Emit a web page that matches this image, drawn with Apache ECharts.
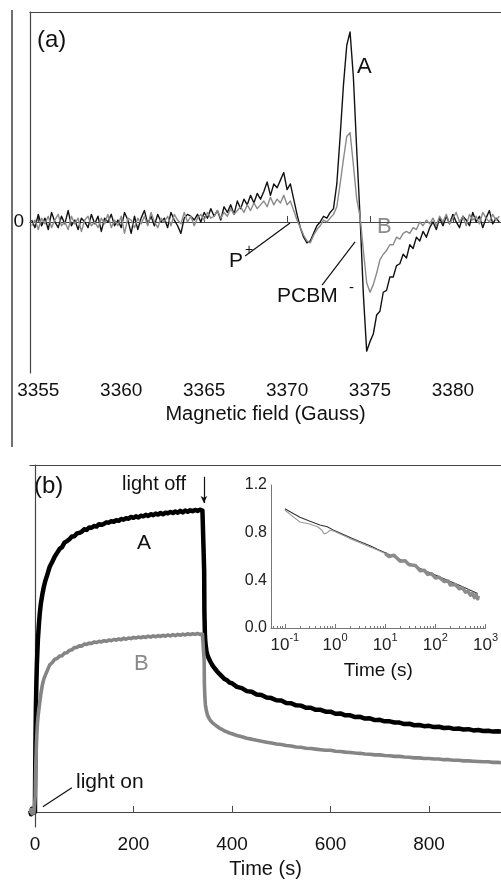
<!DOCTYPE html>
<html>
<head>
<meta charset="utf-8">
<script src="https://cdn.jsdelivr.net/npm/echarts@6/dist/echarts.min.js"></script>
<style>
  html, body { margin: 0; padding: 0; background: #fff; }
  #chart { width: 501px; height: 884px; }
</style>
</head>
<body>
<div id="chart"></div>
<script>
// (a) EPR spectra, sampled every 0.2 G from 3354.6 G
const fieldStart = 3354.6;
const fieldStep = 0.2;
const fieldTicks = [3355, 3360, 3365, 3370, 3375, 3380];
const spectrumA = [
  0.01,-0.03,0.04,-0.02,0.02,-0.04,0.05,0.00,-0.03,0.03,
  -0.01,0.06,-0.02,0.01,-0.04,0.02,0.00,-0.03,0.04,-0.01,
  0.03,-0.05,0.02,0.00,0.04,-0.02,0.01,-0.03,0.05,0.01,
  -0.06,0.03,-0.04,0.02,0.06,-0.01,0.03,-0.02,0.04,0.00,
  0.02,-0.03,0.05,0.01,-0.02,-0.06,0.02,0.04,0.03,0.01,
  0.04,0.00,0.05,0.02,0.07,0.03,0.06,0.01,0.08,0.05,
  0.09,0.04,0.11,0.07,0.12,0.09,0.14,0.10,0.15,0.12,
  0.16,0.21,0.14,0.20,0.18,0.22,0.26,0.17,0.20,0.12,0.04,
  -0.03,-0.08,-0.11,-0.10,-0.06,-0.02,0.00,0.03,0.02,0.05,0.07,
  0.20,0.45,0.72,0.93,1.00,0.76,0.38,0.03,-0.38,-0.68,
  -0.63,-0.59,-0.49,-0.47,-0.37,-0.36,-0.29,-0.29,-0.23,-0.22,-0.17,-0.19,-0.12,-0.14,-0.08,-0.10,-0.05,-0.08,-0.03,
  0.00,-0.04,0.02,-0.02,0.03,-0.01,0.04,0.00,-0.03,0.03,0.01,-0.02,0.05,0.00,0.03,-0.03,0.02,0.06,-0.01,0.02,0.00
];
const spectrumB = [
  -0.02,0.01,-0.04,0.02,-0.01,0.03,-0.03,0.01,0.04,-0.02,
  0.00,-0.04,0.03,-0.01,0.02,-0.05,0.01,0.03,-0.02,0.00,
  -0.03,0.02,-0.01,0.04,-0.03,0.01,-0.02,0.03,-0.06,0.02,
  0.01,-0.03,0.02,-0.01,0.03,-0.02,0.05,0.00,-0.03,0.02,
  0.00,0.03,-0.02,0.04,0.01,-0.01,0.05,0.00,0.03,-0.02,
  0.02,0.04,0.01,0.05,0.02,0.03,0.06,0.02,0.05,0.03,
  0.07,0.04,0.06,0.08,0.05,0.09,0.06,0.10,0.07,0.09,
  0.11,0.08,0.13,0.09,0.12,0.10,0.14,0.09,0.11,0.06,0.01,
  -0.03,-0.07,-0.10,-0.11,-0.07,-0.04,-0.02,0.01,0.00,0.02,0.04,
  0.08,0.20,0.33,0.45,0.47,0.30,0.12,0.03,-0.15,-0.32,
  -0.37,-0.33,-0.27,-0.20,-0.17,-0.15,-0.12,-0.12,-0.08,-0.09,-0.06,-0.05,-0.06,-0.03,-0.04,0.00,-0.02,0.01,-0.01,
  0.02,-0.02,0.03,0.00,0.04,-0.01,0.02,0.05,0.00,0.03,-0.02,0.04,0.01,0.03,-0.01,0.05,0.02,0.00,0.04,0.01,0.03
];

// (b) signal vs time
const timeTicks = [0, 200, 400, 600, 800];
const times = [
  -10,-8,-6,-4,-2,0,0.5,1,2,3,4,5,6,8,
  10,12,15,18,21,25,
  30,35,40,45,50,55,60,65,70,75,80,85,90,95,100,105,110,115,120,125,130,135,140,145,150,155,
  160,165,170,175,180,185,190,195,200,205,210,215,220,225,230,235,240,245,250,255,260,265,270,275,
  280,285,290,295,300,305,310,315,320,325,330,335,340,
  343,343.5,344,345,346,348,350,353,356,
  360,365,370,375,380,385,390,395,400,
  410,420,430,440,450,460,470,480,490,500,510,520,530,540,550,560,570,580,590,600,
  610,620,630,640,650,660,670,680,690,700,710,720,730,740,750,760,770,780,790,800,
  810,820,830,840,850,860,870,880,890,900,910,920,930,940,
  946
];
const signalA = [
  0.005,-0.008,0.01,-0.004,0.008,0.0,0.12,0.22,0.35,0.43,0.49,0.53,0.57,0.62,
  0.66,0.69,0.72,0.745,0.765,0.785,
  0.812,0.828,0.845,0.858,0.871,0.877,0.892,0.897,0.903,0.912,0.913,0.922,0.924,0.928,0.936,0.934,0.942,0.941,0.947,0.945,0.953,0.951,0.954,0.959,0.958,0.963,
  0.961,0.966,0.964,0.97,0.968,0.973,0.971,0.977,0.974,0.979,0.975,0.981,0.979,0.984,0.98,0.986,0.983,0.988,0.985,0.99,0.986,0.991,0.989,0.993,
  0.99,0.995,0.991,0.997,0.992,0.998,0.994,0.999,0.996,1.0,0.997,1.001,0.998,
  0.998,0.8,0.66,0.59,0.56,0.535,0.52,0.508,0.498,
  0.486,0.475,0.465,0.456,0.448,0.44,0.436,0.428,0.426,
  0.414,0.41,0.4,0.398,0.389,0.387,0.379,0.377,0.37,0.369,0.361,0.36,0.353,0.352,0.345,0.345,0.338,0.338,0.332,0.332,
  0.325,0.326,0.32,0.32,0.314,0.315,0.309,0.31,0.304,0.305,0.3,0.3,0.296,0.296,0.291,0.292,0.287,0.288,0.284,0.285,
  0.281,0.282,0.278,0.279,0.275,0.276,0.273,0.274,0.27,0.271,0.268,0.269,0.266,0.267,
  0.265
];
const signalB = [
  -0.004,0.008,-0.006,0.009,-0.003,0.0,0.05,0.1,0.17,0.22,0.26,0.29,0.31,0.34,
  0.365,0.39,0.42,0.44,0.452,0.468,
  0.487,0.494,0.505,0.508,0.516,0.517,0.526,0.527,0.535,0.537,0.544,0.545,0.55,0.549,0.556,0.555,0.559,0.558,0.563,0.561,0.565,0.563,0.567,0.565,0.569,0.567,
  0.571,0.569,0.573,0.57,0.575,0.572,0.576,0.574,0.578,0.576,0.579,0.577,0.58,0.578,0.582,0.579,0.583,0.58,0.584,0.581,0.585,0.582,0.586,0.583,
  0.587,0.584,0.588,0.585,0.589,0.586,0.59,0.587,0.59,0.588,0.591,0.588,0.589,
  0.588,0.5,0.42,0.38,0.355,0.335,0.322,0.311,0.303,
  0.296,0.289,0.283,0.277,0.273,0.268,0.265,0.261,0.259,
  0.253,0.249,0.244,0.241,0.237,0.234,0.231,0.228,0.225,0.223,0.22,0.218,0.215,0.214,0.211,0.21,0.208,0.206,0.204,0.204,
  0.201,0.2,0.198,0.197,0.195,0.194,0.192,0.191,0.189,0.189,0.187,0.186,0.184,0.184,0.182,0.181,0.179,0.179,0.177,0.177,
  0.175,0.175,0.173,0.173,0.171,0.171,0.169,0.169,0.168,0.167,0.166,0.166,0.164,0.164,
  0.163
];

// inset: normalised decay on log time
const insetTicks = [0.1, 1, 10, 100, 1000];
const insetMinorTicks = [
  0.06,0.07,0.08,0.09,0.2,0.3,0.4,0.5,0.6,0.7,0.8,0.9,
  2,3,4,5,6,7,8,9,20,30,40,50,60,70,80,90,200,300,400,500,600,700,800,900
];
const insetTimesA = [0.1,0.2,0.3,0.5,0.7,1,2,3,5,7,10,20,30,50,70,100,200,300,500,700];
const insetA = [1.0,0.93,0.9,0.865,0.85,0.815,0.76,0.728,0.69,0.66,0.632,0.575,0.543,0.5,0.473,0.445,0.39,0.358,0.316,0.29];
const insetTimesB = [0.1,0.15,0.2,0.3,0.45,0.55,0.6,0.7,0.8,1,2,3,5,7,10];
const insetB = [0.99,0.93,0.89,0.875,0.85,0.82,0.79,0.8,0.82,0.81,0.75,0.72,0.68,0.655,0.625];
const insetTimesBTail = [10,12,15,20,25,30,40,50,60,70,85,100,120,150,180,200,250,300,350,400,450,500,550,600,650,700,720];
const insetBTail = [0.625,0.6,0.61,0.56,0.565,0.53,0.525,0.48,0.485,0.45,0.455,0.42,0.425,0.39,0.395,0.36,0.365,0.33,0.335,0.3,0.31,0.275,0.29,0.255,0.28,0.245,0.27];

const font = "'Liberation Sans', Arial, sans-serif";
const ink = "#111";
const grey = "#8a8a8a";
const frame = { lineStyle: { color: "#444", width: 1.2 } };

const pairs = (xs, ys) => xs.map((x, i) => [x, ys[i]]);
const fieldPairs = (ys) => ys.map((y, i) => [+(fieldStart + i * fieldStep).toFixed(2), y]);

const chart = echarts.init(document.getElementById("chart"), null, { renderer: "canvas" });

const text = (x, y, str, size, color) => ({
  type: "text", left: x, top: y, silent: true,
  style: { text: str, fontSize: size, fontFamily: font, fill: color || ink },
});

const option = {
  animation: false,
  textStyle: { fontFamily: font },
  grid: [
    { left: 30, right: 0, top: 12, bottom: 511 },
    { left: 30, right: 0, top: 465, bottom: 57 },
    { left: 271, right: 13, top: 485, bottom: 256 },
  ],
  xAxis: [
    {
      gridIndex: 0, type: "value", min: 3354.5, max: 3382.9,
      axisLine: frame,
      axisTick: { inside: true, length: 6, customValues: fieldTicks, lineStyle: { color: "#444" } },
      axisLabel: { customValues: fieldTicks, fontSize: 19, color: ink, margin: 8, formatter: (v) => String(v) },
      splitLine: { show: false },
      name: "Magnetic field (Gauss)", nameLocation: "middle", nameGap: 31,
      nameTextStyle: { fontSize: 20, color: ink },
    },
    {
      gridIndex: 0, type: "value", position: "top", min: 3354.5, max: 3382.9,
      axisLine: frame, axisTick: { show: false }, axisLabel: { show: false }, splitLine: { show: false },
    },
    {
      gridIndex: 1, type: "value", min: -10, max: 946,
      axisLine: frame,
      axisTick: { inside: true, length: 6, customValues: timeTicks, lineStyle: { color: "#444" } },
      axisLabel: { customValues: timeTicks, fontSize: 19, color: ink, margin: 8, formatter: (v) => String(v) },
      splitLine: { show: false },
      name: "Time (s)", nameLocation: "middle", nameGap: 32,
      nameTextStyle: { fontSize: 20, color: ink },
    },
    {
      gridIndex: 1, type: "value", position: "top", min: -10, max: 946,
      axisLine: frame, axisTick: { show: false }, axisLabel: { show: false }, splitLine: { show: false },
    },
    {
      gridIndex: 2, type: "log", logBase: 10, min: 0.053, max: 1000,
      axisLine: { lineStyle: { color: "#777", width: 1 } },
      axisTick: { inside: true, length: 4, customValues: insetTicks, lineStyle: { color: "#777" } },
      axisLabel: {
        customValues: insetTicks, color: "#222", margin: 4,
        formatter: (v) => "{b|10}{s|" + Math.round(Math.log10(v)) + "}",
        rich: {
          b: { fontSize: 17, fontFamily: font, color: "#222", lineHeight: 22, verticalAlign: "bottom" },
          s: { fontSize: 11, fontFamily: font, color: "#222", lineHeight: 12, verticalAlign: "top" },
        },
      },
      splitLine: { show: false },
      name: "Time (s)", nameLocation: "middle", nameGap: 33,
      nameTextStyle: { fontSize: 19, color: ink },
    },
    {
      gridIndex: 2, type: "log", logBase: 10, min: 0.053, max: 1000, position: "bottom",
      axisLine: { show: false },
      axisTick: { inside: true, length: 2, customValues: insetMinorTicks, lineStyle: { color: "#777" } },
      axisLabel: { show: false }, splitLine: { show: false },
    },
  ],
  yAxis: [
    {
      gridIndex: 0, type: "value", min: -0.795, max: 1.105,
      axisLine: { show: true, lineStyle: { color: "#444", width: 1.2 } },
      axisTick: { show: false },
      axisLabel: { customValues: [0], fontSize: 19, color: ink, margin: 6 },
      splitLine: { show: false },
    },
    {
      gridIndex: 1, type: "value", min: -0.05, max: 1.149,
      axisLine: { show: true, lineStyle: { color: "#444", width: 1.2 } },
      axisTick: { show: false }, axisLabel: { show: false }, splitLine: { show: false },
    },
    {
      gridIndex: 2, type: "value", min: 0, max: 1.2, interval: 0.4,
      axisLine: { show: true, lineStyle: { color: "#777", width: 1 } },
      axisTick: { show: false },
      axisLabel: { fontSize: 16, color: "#222", margin: 4, formatter: (v) => v.toFixed(1) },
      splitLine: { show: false },
    },
  ],
  series: [
    {
      name: "A", type: "line", xAxisIndex: 0, yAxisIndex: 0, data: fieldPairs(spectrumA),
      showSymbol: false, lineStyle: { color: ink, width: 1.4, join: "round" },
      markLine: {
        silent: true, symbol: ["none", "none"], label: { show: false },
        lineStyle: { color: ink, width: 1.2, type: "solid" },
        data: [
          [{ coord: [3367.47, -0.179] }, { coord: [3370.18, -0.005] }],
          [{ coord: [3372.11, -0.332] }, { coord: [3374.1, -0.105] }],
        ],
      },
    },
    {
      name: "B", type: "line", xAxisIndex: 0, yAxisIndex: 0, data: fieldPairs(spectrumB),
      showSymbol: false, lineStyle: { color: grey, width: 1.4, join: "round" },
    },
    {
      name: "A(t)", type: "line", xAxisIndex: 2, yAxisIndex: 1, data: pairs(times, signalA),
      showSymbol: false, lineStyle: { color: "#000", width: 4.5, join: "round" },
      markLine: {
        silent: true, label: { show: false },
        lineStyle: { color: ink, width: 1.2, type: "solid" },
        data: [
          [{ coord: [343, 1.11], symbol: "none" }, { coord: [343, 1.023], symbol: "arrow", symbolSize: [5, 7] }],
          [{ coord: [16, 0.017], symbol: "none" }, { coord: [75, 0.08], symbol: "none" }],
        ],
      },
    },
    {
      name: "B(t)", type: "line", xAxisIndex: 2, yAxisIndex: 1, data: pairs(times, signalB),
      showSymbol: false, lineStyle: { color: "#858585", width: 3.6, join: "round" },
    },
    {
      name: "A inset", type: "line", xAxisIndex: 4, yAxisIndex: 2, data: pairs(insetTimesA, insetA),
      showSymbol: false, lineStyle: { color: "#333", width: 1.1 },
    },
    {
      name: "B inset", type: "line", xAxisIndex: 4, yAxisIndex: 2, data: pairs(insetTimesB, insetB),
      showSymbol: false, lineStyle: { color: "#999", width: 1.1 },
    },
    {
      name: "B inset tail", type: "line", xAxisIndex: 4, yAxisIndex: 2, data: pairs(insetTimesBTail, insetBTail),
      showSymbol: false, lineStyle: { color: "#8c8c8c", width: 3.5, join: "round" },
    },
  ],
  graphic: [
    { type: "line", silent: true, shape: { x1: 12, y1: 10, x2: 12, y2: 447 }, style: { stroke: "#222", lineWidth: 1.3 } },
    text(37, 28, "(a)", 24),
    text(357, 56, "A", 22),
    text(377, 216, "B", 22, grey),
    text(229, 251, "P", 21),
    text(245, 243, "+", 14),
    text(277, 286, "PCBM", 21),
    text(349, 280, "-", 15),
    text(34, 474, "(b)", 24),
    text(122, 474, "light off", 20),
    text(137, 533, "A", 21),
    text(134, 653, "B", 22, grey),
    text(76, 772, "light on", 21),
  ],
};

chart.setOption(option);
</script>
</body>
</html>
